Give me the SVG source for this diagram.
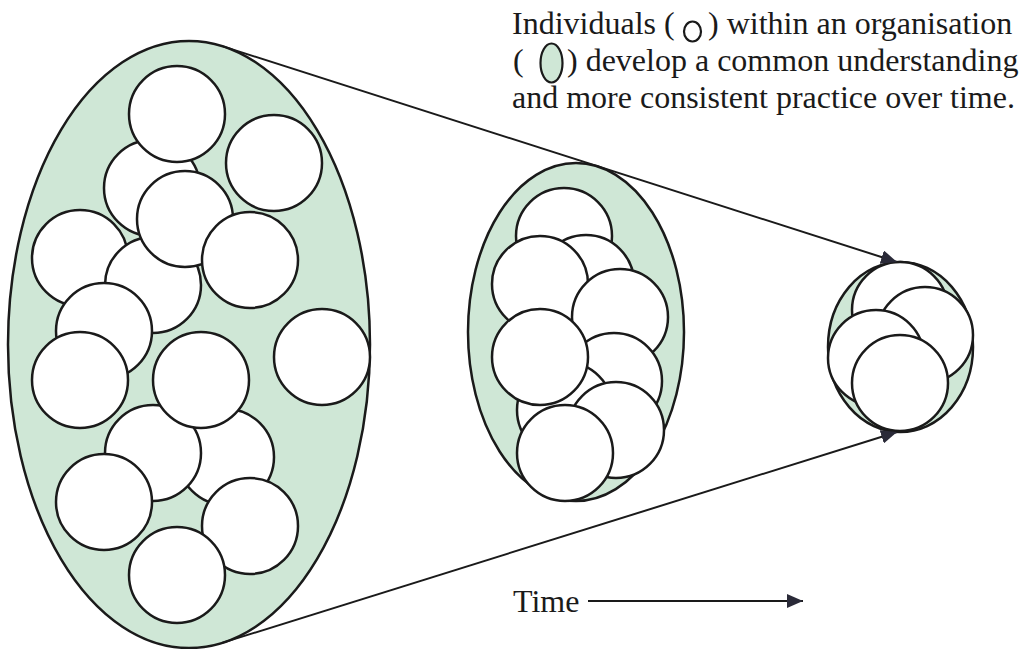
<svg xmlns="http://www.w3.org/2000/svg" width="1031" height="649" viewBox="0 0 1031 649">
  <style>
    .org { fill: #cfe7d6; stroke: #1a1a1a; stroke-width: 2.5; }
    .ind { fill: #ffffff; stroke: #1a1a1a; stroke-width: 2.5; }
    .conn { fill: none; stroke: #1a1a1a; stroke-width: 2; }
    .txt { font-family: "Liberation Serif", "DejaVu Serif", serif; font-size: 32px; fill: #1a1a1a; }
  </style>
  <defs>
    <marker id="head" markerUnits="userSpaceOnUse" markerWidth="17" markerHeight="14" refX="16" refY="7" orient="auto">
      <path d="M0,0 L16,7 L0,14 z" fill="#2a2a38"/>
    </marker>
  </defs>
  <rect width="1031" height="649" fill="#ffffff"/>

  <g id="org-large">
    <ellipse class="org" cx="189" cy="344.5" rx="181" ry="303.5"/>
    <g id="ind-l1"><circle class="ind" cx="152" cy="188" r="48"/></g>
    <g id="ind-l2"><circle class="ind" cx="177" cy="114" r="48"/></g>
    <g id="ind-l3"><circle class="ind" cx="80" cy="258" r="48"/></g>
    <g id="ind-l4"><circle class="ind" cx="153" cy="285" r="48"/></g>
    <g id="ind-l5"><circle class="ind" cx="185" cy="219" r="48"/></g>
    <g id="ind-l6"><circle class="ind" cx="250" cy="260" r="48"/></g>
    <g id="ind-l7"><circle class="ind" cx="274" cy="163" r="48"/></g>
    <g id="ind-l8"><circle class="ind" cx="104" cy="331" r="48"/></g>
    <g id="ind-l9"><circle class="ind" cx="322" cy="357" r="48"/></g>
    <g id="ind-l10"><circle class="ind" cx="226" cy="457" r="48"/></g>
    <g id="ind-l11"><circle class="ind" cx="153" cy="453" r="48"/></g>
    <g id="ind-l12"><circle class="ind" cx="80" cy="380" r="48"/></g>
    <g id="ind-l13"><circle class="ind" cx="201" cy="380" r="48"/></g>
    <g id="ind-l14"><circle class="ind" cx="104" cy="502" r="48"/></g>
    <g id="ind-l15"><circle class="ind" cx="250" cy="526" r="48"/></g>
    <g id="ind-l16"><circle class="ind" cx="177" cy="575" r="48"/></g>
  </g>

  <g id="org-medium">
    <ellipse class="org" cx="576" cy="332" rx="108" ry="169"/>
    <g id="ind-m1"><circle class="ind" cx="564" cy="236" r="48"/></g>
    <g id="ind-m2"><circle class="ind" cx="586" cy="283" r="48"/></g>
    <g id="ind-m3"><circle class="ind" cx="540" cy="284" r="48"/></g>
    <g id="ind-m4"><circle class="ind" cx="620" cy="317" r="48"/></g>
    <g id="ind-m5"><circle class="ind" cx="614" cy="381" r="48"/></g>
    <g id="ind-m6"><circle class="ind" cx="565" cy="410" r="48"/></g>
    <g id="ind-m7"><circle class="ind" cx="540" cy="357" r="48"/></g>
    <g id="ind-m8"><circle class="ind" cx="616" cy="430" r="48"/></g>
    <g id="ind-m9"><circle class="ind" cx="565" cy="453" r="48"/></g>
  </g>

  <g id="org-small">
    <ellipse class="org" cx="900.5" cy="347" rx="72.5" ry="85"/>
    <g id="ind-s1"><circle class="ind" cx="900" cy="310" r="48"/></g>
    <g id="ind-s2"><circle class="ind" cx="925" cy="335" r="48"/></g>
    <g id="ind-s3"><circle class="ind" cx="876" cy="358" r="48"/></g>
    <g id="ind-s4"><circle class="ind" cx="900" cy="383" r="48"/></g>
  </g>

  <g id="connectors">
    <line class="conn" x1="223" y1="46.4" x2="897" y2="262" marker-end="url(#head)"/>
    <line class="conn" x1="222.1" y1="642.9" x2="897" y2="432" marker-end="url(#head)"/>
    <line class="conn" x1="588" y1="601" x2="803" y2="601" marker-end="url(#head)"/>
  </g>

  <g id="legend">
    <text class="txt" x="512" y="34">Individuals (</text>
    <ellipse cx="692.5" cy="31.5" rx="8.5" ry="10" fill="none" stroke="#1a1a1a" stroke-width="2.2"/>
    <text class="txt" x="708" y="34">) within an organisation</text>
    <text class="txt" x="513" y="71">(</text>
    <ellipse cx="551.5" cy="63" rx="11" ry="19.5" fill="#cfe7d6" stroke="#1a1a1a" stroke-width="2.2"/>
    <text class="txt" x="567" y="71">) develop a common understanding</text>
    <text class="txt" x="512" y="108">and more consistent practice over time.</text>
  </g>

  <g id="time-label">
    <text class="txt" x="513" y="612">Time</text>
  </g>
</svg>
